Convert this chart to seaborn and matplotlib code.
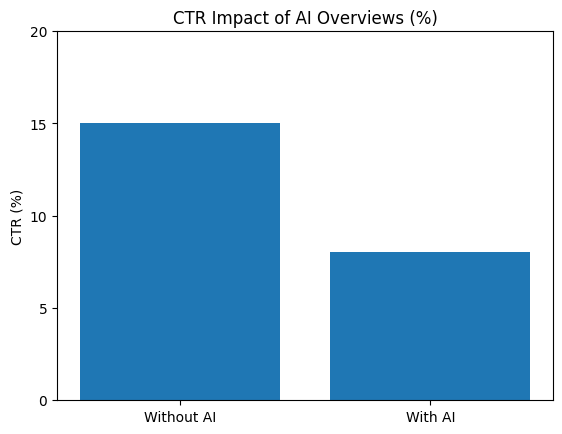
import matplotlib
matplotlib.use("Agg")
import matplotlib.pyplot as plt
import seaborn as sns
import pandas as pd

categories = ["Without AI", "With AI"]
ctr_values = [15, 8]

df = pd.DataFrame({"group": categories, "ctr": ctr_values})

fig = plt.figure(figsize=(5.62, 4.35), dpi=100)
ax = fig.add_axes([57 / 562, 34 / 435, 496 / 562, 369 / 435])

sns.barplot(data=df, x="group", y="ctr", ax=ax, color="#1f77b4",
            saturation=1, width=0.8, linewidth=0)

ax.set_xlim(-0.49, 1.49)
ax.set_ylim(0, 20)
ax.set_yticks([0, 5, 10, 15, 20])
ax.set_xlabel("")
ax.set_ylabel("CTR (%)")
ax.set_title("CTR Impact of AI Overviews (%)")

fig.savefig("out.png", dpi=100)
